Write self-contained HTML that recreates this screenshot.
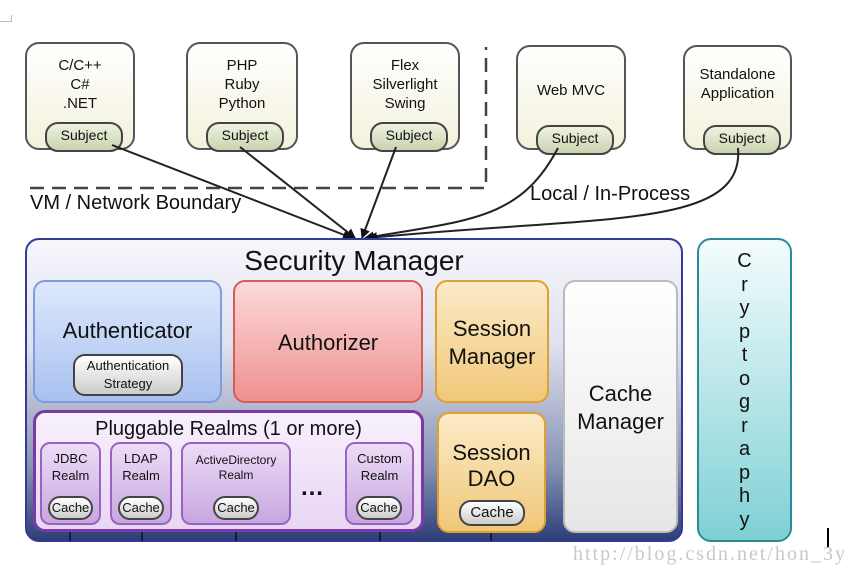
<!DOCTYPE html><html><head><style>
body{margin:0;width:854px;height:575px;background:#fff;position:relative;overflow:hidden;font-family:"Liberation Sans",sans-serif;}
.a{position:absolute;box-sizing:border-box;text-align:center;color:#111;}
.top{border:2px solid #555;border-radius:14px;background:linear-gradient(#fff,#f3f1dc);font-size:15px;line-height:19px;padding-top:12px;}
.subj{position:absolute;left:18px;width:74px;height:26px;top:78px;border:2px solid #444;border-radius:13px;background:linear-gradient(#eef2e0,#c9d3b0);font-size:14px;line-height:22px;}
.pill{border:2px solid #444;border-radius:12px;background:linear-gradient(#fff,#ccc);font-size:13px;}
.realm{border:2px solid #9a63c2;border-radius:10px;background:linear-gradient(#ecdcf6,#c8a6e0);font-size:13px;line-height:17px;padding-top:6px;}
</style></head><body>
<div class="a" style="left:0;top:15px;width:12px;height:7px;border-right:1px solid #bbb;border-bottom:1px solid #bbb"></div>
<div class="a top" style="left:25px;top:42px;width:110px;height:108px">C/C++<br>C#<br>.NET<div class="subj">Subject</div></div>
<div class="a top" style="left:186px;top:42px;width:112px;height:108px">PHP<br>Ruby<br>Python<div class="subj">Subject</div></div>
<div class="a top" style="left:350px;top:42px;width:110px;height:108px">Flex<br>Silverlight<br>Swing<div class="subj">Subject</div></div>
<div class="a top" style="left:516px;top:45px;width:110px;height:105px;padding-top:34px">Web MVC<div class="subj">Subject</div></div>
<div class="a top" style="left:683px;top:45px;width:109px;height:105px;padding-top:18px">Standalone<br>Application<div class="subj">Subject</div></div>
<svg class="a" style="left:0;top:0" width="854" height="575">
<defs><marker id="m" markerWidth="10" markerHeight="10" refX="9" refY="5" orient="auto" markerUnits="userSpaceOnUse"><path d="M0,0 L10,5 L0,10z" fill="#111"/></marker></defs>
<path d="M30,188 H486 V47" fill="none" stroke="#444" stroke-width="2.5" stroke-dasharray="14,8"/>
<g stroke="#222" stroke-width="2" fill="none" marker-end="url(#m)">
<path d="M112,145 L352,238"/><path d="M240,147 L355,238"/><path d="M396,147 L362,238"/>
<path d="M558,148 C520,220 470,220 365,238"/><path d="M738,148 C745,230 600,215 368,238"/>
</g></svg>
<div class="a" style="left:30px;top:192px;font-size:20px;text-align:left">VM / Network Boundary</div>
<div class="a" style="left:530px;top:183px;font-size:20px;text-align:left">Local / In-Process</div>
<div class="a" style="left:25px;top:238px;width:658px;height:304px;border:2px solid #34399a;border-radius:14px;background:linear-gradient(#f6f6fb 0%,#dfe1ee 35%,#8894b5 75%,#2d3f78 100%)"></div>
<svg class="a" style="left:0;top:0" width="854" height="575"><g stroke="#111" stroke-width="1.5"><path d="M70,532V541M142,532V541M236,532V541M380,532V541M491,533V541"/></g></svg>
<div class="a" style="left:25px;top:245px;width:658px;font-size:28px">Security Manager</div>
<div class="a" style="left:33px;top:280px;width:189px;height:123px;border:2px solid #7f9ce0;border-radius:12px;background:linear-gradient(#dde8fb,#a9c1f0);font-size:22px;padding-top:36px">Authenticator
<div class="a pill" style="left:38px;top:72px;width:110px;height:42px;line-height:18px;padding-top:1px">Authentication<br>Strategy</div></div>
<div class="a" style="left:233px;top:280px;width:190px;height:123px;border:2px solid #d85b5b;border-radius:12px;background:linear-gradient(#fbdada,#f09090);font-size:22px;padding-top:48px">Authorizer</div>
<div class="a" style="left:435px;top:280px;width:114px;height:123px;border:2px solid #e0a030;border-radius:12px;background:linear-gradient(#fcebc8,#f0c778);font-size:22px;line-height:28px;padding-top:33px">Session<br>Manager</div>
<div class="a" style="left:563px;top:280px;width:115px;height:253px;border:2px solid #bbb;border-radius:12px;background:linear-gradient(#fff,#e6e6e6);font-size:22px;line-height:28px;padding-top:98px">Cache<br>Manager</div>
<div class="a" style="left:437px;top:412px;width:109px;height:121px;border:2px solid #e0a030;border-radius:12px;background:linear-gradient(#fcebc8,#f0c778);font-size:22px;line-height:26px;padding-top:26px">Session<br>DAO
<div class="a pill" style="left:20px;top:86px;width:66px;height:26px;font-size:15px;line-height:22px">Cache</div></div>
<div class="a" style="left:33px;top:410px;width:391px;height:122px;border:3px solid #7a3aa6;border-radius:12px;background:linear-gradient(#f8f0fc,#e8d6f4);font-size:20px;padding-top:5px">Pluggable Realms (1 or more)</div>
<div class="a realm" style="left:40px;top:442px;width:61px;height:83px">JDBC<br>Realm<div class="a pill" style="left:6px;top:52px;width:45px;height:24px;line-height:20px">Cache</div></div>
<div class="a realm" style="left:110px;top:442px;width:62px;height:83px">LDAP<br>Realm<div class="a pill" style="left:6px;top:52px;width:46px;height:24px;line-height:20px">Cache</div></div>
<div class="a realm" style="left:181px;top:442px;width:110px;height:83px;font-size:12px;line-height:15px;padding-top:9px">ActiveDirectory<br>Realm<div class="a pill" style="left:30px;top:52px;width:46px;height:24px;line-height:20px;font-size:13px">Cache</div></div>
<div class="a" style="left:300px;top:474px;font-size:24px;font-weight:bold">…</div>
<div class="a realm" style="left:345px;top:442px;width:69px;height:83px">Custom<br>Realm<div class="a pill" style="left:9px;top:52px;width:46px;height:24px;line-height:20px">Cache</div></div>
<div class="a" style="left:697px;top:238px;width:95px;height:304px;border:2px solid #2a8c9a;border-radius:14px;background:linear-gradient(#f4fcfd,#7fd0d4);font-size:20px;line-height:23.5px;padding-top:10px">C<br>r<br>y<br>p<br>t<br>o<br>g<br>r<br>a<br>p<br>h<br>y</div>
<div class="a" style="left:827px;top:528px;width:2px;height:20px;background:#000"></div>
<div class="a" style="left:573px;top:543px;font-family:'Liberation Serif',serif;font-size:20px;letter-spacing:2px;color:#c8c8c8">http://blog.csdn.net/hon_3y</div>
</body></html>
